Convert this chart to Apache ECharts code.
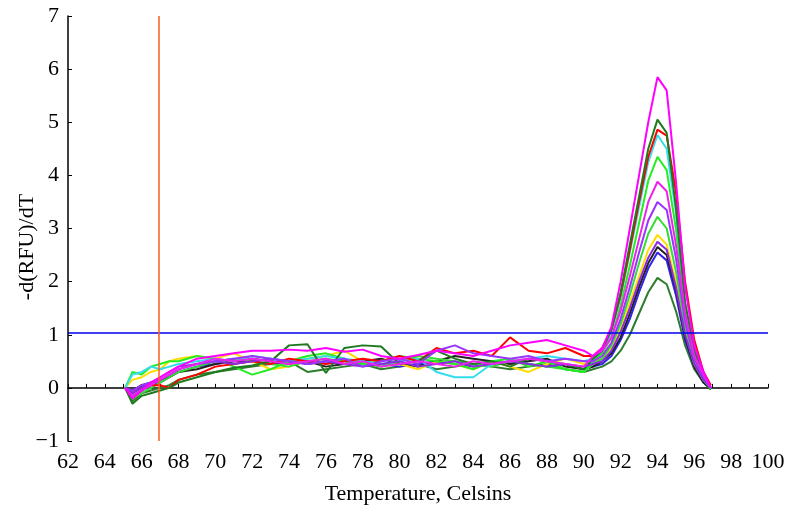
<!DOCTYPE html>
<html>
<head>
<meta charset="utf-8">
<script src="https://cdn.jsdelivr.net/npm/echarts@6/dist/echarts.min.js"></script>
<style>
  html, body { margin: 0; padding: 0; background: #fff; }
  #chart { width: 788px; height: 505px; }
</style>
</head>
<body>
<div id="chart"></div>
<script>
// temperature points shared by all curves
const temps = [65.1, 65.5, 66, 66.5, 67, 67.5, 68, 69, 70, 71, 72, 73, 74, 75, 76, 77, 78, 79, 80,
  81, 82, 83, 84, 85, 86, 87, 88, 89, 90, 90.5, 91, 91.5, 92, 92.5, 93, 93.5, 94, 94.5, 95, 95.5, 96, 96.5, 96.9]

const magenta = [0, -0.2, -0.05, 0.1, 0.2, 0.3, 0.4, 0.55, 0.6, 0.65, 0.7, 0.7, 0.72, 0.7, 0.75, 0.68, 0.72, 0.6, 0.55,
  0.62, 0.7, 0.65, 0.6, 0.7, 0.8, 0.85, 0.9, 0.8, 0.7, 0.6, 0.75, 1.15, 2.0, 3.0, 4.0, 5.0, 5.85, 5.6, 3.9, 1.9, 0.8, 0.3, 0.0]
const darkGreen = [0, -0.3, -0.15, -0.1, -0.05, 0, 0.1, 0.2, 0.3, 0.38, 0.42, 0.5, 0.8, 0.82, 0.28, 0.75, 0.8, 0.78, 0.45,
  0.5, 0.7, 0.55, 0.45, 0.5, 0.4, 0.55, 0.5, 0.45, 0.35, 0.55, 0.7, 1.1, 1.8, 2.7, 3.6, 4.5, 5.05, 4.8, 3.4, 1.6, 0.7, 0.25, 0.0]
const red = [0, -0.1, 0, 0.05, 0.05, 0.0, 0.15, 0.25, 0.4, 0.45, 0.5, 0.45, 0.55, 0.5, 0.45, 0.5, 0.55, 0.5, 0.6,
  0.5, 0.75, 0.65, 0.7, 0.6, 0.95, 0.7, 0.65, 0.75, 0.6, 0.6, 0.75, 1.1, 1.75, 2.6, 3.5, 4.35, 4.86, 4.75, 3.7, 2.0, 0.9, 0.3, 0.05]
const cyan = [0, 0.25, 0.3, 0.4, 0.35, 0.4, 0.45, 0.5, 0.55, 0.5, 0.6, 0.55, 0.5, 0.55, 0.6, 0.55, 0.5, 0.45, 0.5,
  0.55, 0.3, 0.2, 0.2, 0.45, 0.5, 0.55, 0.6, 0.55, 0.5, 0.55, 0.7, 1.05, 1.7, 2.55, 3.4, 4.25, 4.76, 4.5, 3.3, 1.6, 0.7, 0.25, 0.0]
const lime = [0, 0.3, 0.25, 0.4, 0.45, 0.5, 0.5, 0.6, 0.55, 0.4, 0.25, 0.35, 0.5, 0.6, 0.65, 0.55, 0.45, 0.5, 0.6,
  0.55, 0.5, 0.45, 0.35, 0.5, 0.55, 0.4, 0.5, 0.35, 0.3, 0.5, 0.65, 0.95, 1.55, 2.3, 3.1, 3.9, 4.35, 4.1, 3.0, 1.5, 0.65, 0.2, 0.0]
const magenta2 = [0, -0.15, -0.05, 0.05, 0.15, 0.25, 0.35, 0.45, 0.55, 0.5, 0.55, 0.5, 0.45, 0.5, 0.55, 0.45, 0.5, 0.4, 0.45,
  0.5, 0.45, 0.4, 0.5, 0.45, 0.5, 0.55, 0.5, 0.45, 0.4, 0.6, 0.7, 0.95, 1.45, 2.1, 2.8, 3.5, 3.88, 3.7, 2.7, 1.4, 0.6, 0.25, 0.0]
const purple = [0, -0.05, 0.05, 0.1, 0.15, 0.25, 0.35, 0.45, 0.5, 0.55, 0.6, 0.55, 0.5, 0.45, 0.5, 0.55, 0.4, 0.5, 0.55,
  0.45, 0.7, 0.8, 0.65, 0.6, 0.55, 0.6, 0.5, 0.55, 0.5, 0.5, 0.6, 0.85, 1.3, 1.9, 2.55, 3.15, 3.5, 3.35, 2.45, 1.25, 0.55, 0.2, 0.0]
const green2 = [0, -0.2, -0.1, 0, 0.1, 0.2, 0.3, 0.4, 0.5, 0.55, 0.5, 0.45, 0.4, 0.5, 0.55, 0.5, 0.45, 0.4, 0.5,
  0.6, 0.55, 0.5, 0.45, 0.4, 0.5, 0.45, 0.4, 0.35, 0.3, 0.45, 0.55, 0.8, 1.2, 1.75, 2.35, 2.9, 3.22, 3.0, 2.2, 1.15, 0.5, 0.15, -0.02]
const yellow = [0, 0.15, 0.2, 0.3, 0.35, 0.5, 0.55, 0.6, 0.55, 0.65, 0.5, 0.35, 0.4, 0.55, 0.6, 0.7, 0.5, 0.4, 0.45,
  0.35, 0.5, 0.45, 0.35, 0.5, 0.4, 0.3, 0.45, 0.55, 0.45, 0.5, 0.55, 0.75, 1.1, 1.6, 2.1, 2.6, 2.88, 2.7, 2.0, 1.05, 0.45, 0.15, 0.0]
const violet = [0, -0.1, 0, 0.1, 0.2, 0.3, 0.4, 0.45, 0.5, 0.45, 0.5, 0.55, 0.5, 0.45, 0.5, 0.45, 0.4, 0.45, 0.5,
  0.4, 0.45, 0.5, 0.4, 0.45, 0.5, 0.45, 0.4, 0.45, 0.4, 0.45, 0.5, 0.7, 1.05, 1.5, 2.0, 2.45, 2.75, 2.6, 1.9, 1.0, 0.45, 0.15, 0.0]
const black = [0, -0.05, 0.05, 0.1, 0.15, 0.2, 0.3, 0.35, 0.45, 0.5, 0.55, 0.5, 0.45, 0.5, 0.4, 0.45, 0.5, 0.55, 0.45,
  0.4, 0.5, 0.6, 0.55, 0.5, 0.45, 0.5, 0.55, 0.4, 0.35, 0.4, 0.5, 0.65, 0.95, 1.4, 1.9, 2.35, 2.65, 2.5, 1.85, 0.95, 0.4, 0.1, -0.02]
const blue = [0, -0.15, -0.05, 0.05, 0.1, 0.2, 0.3, 0.4, 0.45, 0.5, 0.5, 0.45, 0.5, 0.45, 0.5, 0.45, 0.5, 0.45, 0.4,
  0.45, 0.5, 0.45, 0.4, 0.45, 0.5, 0.45, 0.4, 0.45, 0.35, 0.4, 0.45, 0.6, 0.9, 1.3, 1.8, 2.25, 2.55, 2.4, 1.75, 0.9, 0.4, 0.1, 0.0]
const darkGreen2 = [0, -0.25, -0.1, -0.05, 0, 0.05, 0.15, 0.25, 0.3, 0.35, 0.4, 0.45, 0.5, 0.3, 0.35, 0.4, 0.45, 0.35, 0.4,
  0.45, 0.35, 0.4, 0.45, 0.4, 0.35, 0.4, 0.45, 0.35, 0.3, 0.35, 0.4, 0.5, 0.7, 1.0, 1.4, 1.8, 2.07, 1.95, 1.45, 0.8, 0.35, 0.1, -0.03]

const xTicks = [62, 64, 66, 68, 70, 72, 74, 76, 78, 80, 82, 84, 86, 88, 90, 92, 94, 96, 98, 100]
const yTicks = [-1, 0, 1, 2, 3, 4, 5, 6, 7]
const threshold = 1.03
const startTemp = 66.9

const curves = [
  [darkGreen2, '#2e7d2e'],
  [blue, '#3322ee'],
  [black, '#222222'],
  [yellow, '#ffdd00'],
  [green2, '#33dd33'],
  [lime, '#22ee22'],
  [cyan, '#33ddee'],
  [red, '#ff0000'],
  [darkGreen, '#1f7a1f'],
  [violet, '#8a2be2'],
  [purple, '#9933ff'],
  [magenta2, '#ee22ee'],
  [magenta, '#ff00ff']
]

const font = '"Liberation Serif", "Times New Roman", serif'

const series = curves.map(([vals, color]) => ({
  type: 'line',
  data: temps.map((t, i) => [t, vals[i]]),
  showSymbol: false,
  lineStyle: { color: color, width: 2 },
  silent: true,
  z: 2
}))

series.push({
  type: 'line',
  data: [],
  z: 3,
  markLine: {
    silent: true,
    symbol: 'none',
    label: { show: false },
    animation: false,
    data: [
      { yAxis: threshold, lineStyle: { color: '#0000ee', width: 1.5, type: 'solid' } },
      { xAxis: startTemp, lineStyle: { color: '#ff5a1e', width: 1.5, type: 'solid' } }
    ]
  }
})

const myChart = echarts.init(document.getElementById('chart'))
myChart.setOption({
  animation: false,
  grid: { left: 68, right: 20, top: 16, bottom: 64, outerBoundsMode: 'none', containLabel: false },
  // y axis title placed by hand, it sits a bit below the middle in the original
  graphic: [{
    type: 'text',
    x: 27,
    y: 247,
    rotation: Math.PI / 2,
    style: {
      text: '-d(RFU)/dT',
      font: '22px ' + font,
      fill: '#000',
      align: 'center',
      verticalAlign: 'middle'
    }
  }],
  xAxis: {
    type: 'value',
    min: xTicks[0],
    max: xTicks[xTicks.length - 1],
    interval: 2,
    name: 'Temperature, Celsins',
    nameLocation: 'middle',
    nameGap: 42,
    nameTextStyle: { fontFamily: font, fontSize: 22, color: '#000' },
    axisLine: { lineStyle: { color: '#000', width: 1.5 } },
    axisTick: { inside: true, length: 4, lineStyle: { color: '#000' } },
    minorTick: { show: true, splitNumber: 2, length: 4, lineStyle: { color: '#000' } },
    axisLabel: { fontFamily: font, fontSize: 22, color: '#000', margin: 10 },
    splitLine: { show: false }
  },
  yAxis: {
    type: 'value',
    min: yTicks[0],
    max: yTicks[yTicks.length - 1],
    interval: 1,
    axisLine: { show: true, lineStyle: { color: '#000', width: 1.5 } },
    axisTick: { show: true, inside: true, length: 4, lineStyle: { color: '#000' } },
    axisLabel: {
      fontFamily: font, fontSize: 22, color: '#000', margin: 9,
      formatter: v => (v < 0 ? '\u2212' + Math.abs(v) : String(v))
    },
    splitLine: { show: false }
  },
  series: series
})
</script>
</body>
</html>
